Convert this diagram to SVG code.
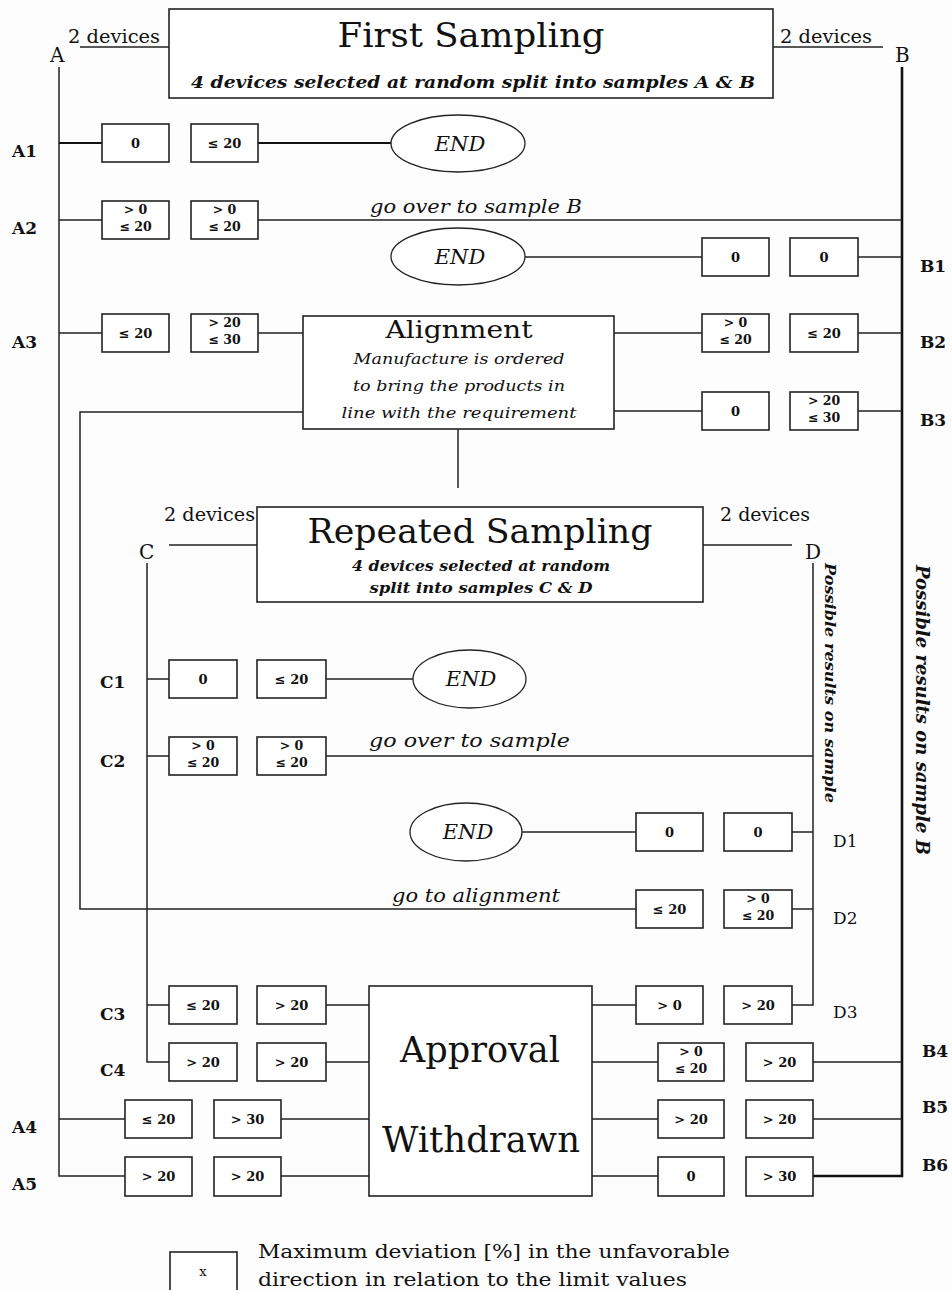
<svg xmlns="http://www.w3.org/2000/svg" width="952" height="1290" viewBox="0 0 952 1290">
<style>
.bx{fill:#fff;stroke:#222;stroke-width:1.6}
.ln{stroke:#222;stroke-width:1.5;fill:none}
.thk{stroke:#111;stroke-width:2.6;fill:none}
.ov{fill:#fff;stroke:#222;stroke-width:1.3}
text{font-family:"DejaVu Serif","Liberation Serif",serif;fill:#111}
.v{font-size:13px;font-weight:bold;text-anchor:middle}
.v2{font-size:12.5px;font-weight:bold;text-anchor:middle}
.lb{font-size:17px;font-weight:bold}
.lr{font-size:17px}
.dv{font-size:18px}
.it{font-style:italic}
.end{font-size:21px;font-style:italic;text-anchor:middle}
.go{font-size:19px;font-style:italic}
.mid{text-anchor:middle}
</style>
<rect width="952" height="1290" fill="#fdfdfd"/>

<g id="connectors">
  <path class="ln" d="M59 67 V1176 H125"/>
  <path class="thk" d="M902 67 V1176 H813"/>
  <path class="ln" d="M80 47 H169 M773 47 H883"/>
  <path class="thk" d="M59 143 H102 M258 143 H391" style="stroke-width:2"/>
  <path class="ln" d="M59 220 H102 M258 220 H902"/>
  <path class="ln" d="M525 257 H702 M858 257 H902"/>
  <path class="ln" d="M59 333 H102 M258 333 H303 M614 333 H702 M858 333 H902"/>
  <path class="ln" d="M614 411 H702 M858 411 H902"/>
  <path class="ln" d="M303 412 H80 V909 H636"/>
  <path class="ln" d="M458 429 V488"/>
  <path class="ln" d="M169 545 H257 M703 545 H792"/>
  <path class="ln" d="M147 563 V1062 H169"/>
  <path class="ln" d="M813 563 V1005 H792"/>
  <path class="ln" d="M147 679 H169 M326 679 H413"/>
  <path class="ln" d="M147 756 H169 M326 756 H813"/>
  <path class="ln" d="M522 832 H636 M792 832 H813"/>
  <path class="ln" d="M792 909 H813"/>
  <path class="ln" d="M147 1005 H169 M326 1005 H369 M592 1005 H636"/>
  <path class="ln" d="M326 1062 H369 M592 1062 H658 M813 1062 H902"/>
  <path class="ln" d="M59 1119 H125 M281 1119 H369 M592 1119 H658 M813 1119 H902"/>
  <path class="ln" d="M281 1176 H369 M592 1176 H658"/>
</g>

<g id="first-sampling">
  <rect class="bx" x="169" y="9" width="604" height="89"/>
  <text x="471" y="47" class="mid" font-size="33" textLength="267" lengthAdjust="spacingAndGlyphs">First Sampling</text>
  <text x="473" y="88" class="mid it" font-size="16" font-weight="bold" textLength="564" lengthAdjust="spacingAndGlyphs">4 devices selected at random split into samples A &amp; B</text>
  <text x="68" y="43" class="dv" textLength="92" lengthAdjust="spacingAndGlyphs">2 devices</text>
  <text x="780" y="43" class="dv" textLength="92" lengthAdjust="spacingAndGlyphs">2 devices</text>
  <text x="50" y="62" font-size="20">A</text>
  <text x="895" y="62" font-size="20">B</text>
</g>

<g id="A1">
  <text x="12" y="157" class="lb">A1</text>
  <rect class="bx" x="102" y="124" width="67" height="38"/><text x="135.5" y="148" class="v">0</text>
  <rect class="bx" x="191" y="124" width="67" height="38"/><text x="224.5" y="148" class="v">≤ 20</text>
</g>
<g id="end-A1">
  <ellipse class="ov" cx="458" cy="143.5" rx="67" ry="28.5"/>
  <text x="460" y="151" class="end">END</text>
</g>

<g id="A2">
  <text x="12" y="234" class="lb">A2</text>
  <rect class="bx" x="102" y="201" width="67" height="38"/><text x="135.5" y="214" class="v2">&gt; 0</text><text x="135.5" y="231" class="v2">≤ 20</text>
  <rect class="bx" x="191" y="201" width="67" height="38"/><text x="224.5" y="214" class="v2">&gt; 0</text><text x="224.5" y="231" class="v2">≤ 20</text>
  <text x="370" y="213" class="go" textLength="212" lengthAdjust="spacingAndGlyphs">go over to sample B</text>
</g>

<g id="end-B1">
  <ellipse class="ov" cx="458" cy="256.5" rx="67" ry="28.5"/>
  <text x="460" y="264" class="end">END</text>
</g>
<g id="B1">
  <rect class="bx" x="702" y="238" width="67" height="38"/><text x="735.5" y="262" class="v">0</text>
  <rect class="bx" x="790" y="238" width="68" height="38"/><text x="824" y="262" class="v">0</text>
  <text x="920" y="272" class="lb">B1</text>
</g>

<g id="A3">
  <text x="12" y="348" class="lb">A3</text>
  <rect class="bx" x="102" y="314" width="67" height="38"/><text x="135.5" y="338" class="v">≤ 20</text>
  <rect class="bx" x="191" y="314" width="67" height="38"/><text x="224.5" y="327" class="v2">&gt; 20</text><text x="224.5" y="344" class="v2">≤ 30</text>
</g>

<g id="alignment">
  <rect class="bx" x="303" y="316" width="311" height="113"/>
  <text x="459" y="338" class="mid" font-size="25" textLength="147" lengthAdjust="spacingAndGlyphs">Alignment</text>
  <text x="459" y="364" class="mid it" font-size="15" textLength="211" lengthAdjust="spacingAndGlyphs">Manufacture is ordered</text>
  <text x="459" y="391" class="mid it" font-size="15" textLength="212" lengthAdjust="spacingAndGlyphs">to bring the products in</text>
  <text x="459" y="418" class="mid it" font-size="15" textLength="235" lengthAdjust="spacingAndGlyphs">line with the requirement</text>
</g>

<g id="B2">
  <rect class="bx" x="702" y="314" width="67" height="38"/><text x="735.5" y="327" class="v2">&gt; 0</text><text x="735.5" y="344" class="v2">≤ 20</text>
  <rect class="bx" x="790" y="314" width="68" height="38"/><text x="824" y="338" class="v">≤ 20</text>
  <text x="920" y="348" class="lb">B2</text>
</g>
<g id="B3">
  <rect class="bx" x="702" y="392" width="67" height="38"/><text x="735.5" y="416" class="v">0</text>
  <rect class="bx" x="790" y="392" width="68" height="38"/><text x="824" y="405" class="v2">&gt; 20</text><text x="824" y="422" class="v2">≤ 30</text>
  <text x="920" y="426" class="lb">B3</text>
</g>

<g id="repeated-sampling">
  <rect class="bx" x="257" y="507" width="446" height="95"/>
  <text x="480" y="543" class="mid" font-size="33" textLength="345" lengthAdjust="spacingAndGlyphs">Repeated Sampling</text>
  <text x="481" y="571" class="mid it" font-size="15" font-weight="bold" textLength="258" lengthAdjust="spacingAndGlyphs">4 devices selected at random</text>
  <text x="481" y="593" class="mid it" font-size="15" font-weight="bold" textLength="223" lengthAdjust="spacingAndGlyphs">split into samples C &amp; D</text>
  <text x="164" y="521" class="dv" textLength="91" lengthAdjust="spacingAndGlyphs">2 devices</text>
  <text x="720" y="521" class="dv" textLength="90" lengthAdjust="spacingAndGlyphs">2 devices</text>
  <text x="139" y="559" font-size="20">C</text>
  <text x="805" y="559" font-size="20">D</text>
</g>

<g id="result-labels">
  <text transform="translate(916,565) rotate(90)" font-size="18" font-style="italic" font-weight="bold" textLength="290" lengthAdjust="spacingAndGlyphs">Possible results on sample B</text>
  <text transform="translate(825,563) rotate(90)" font-size="15" font-style="italic" font-weight="bold" textLength="240" lengthAdjust="spacingAndGlyphs">Possible results on sample</text>
</g>

<g id="C1">
  <text x="100" y="688" class="lb">C1</text>
  <rect class="bx" x="169" y="660" width="68" height="38"/><text x="203" y="684" class="v">0</text>
  <rect class="bx" x="257" y="660" width="69" height="38"/><text x="291.5" y="684" class="v">≤ 20</text>
</g>
<g id="end-C1">
  <ellipse class="ov" cx="469.5" cy="679" rx="56.5" ry="29"/>
  <text x="471" y="686" class="end">END</text>
</g>

<g id="C2">
  <text x="100" y="767" class="lb">C2</text>
  <rect class="bx" x="169" y="737" width="68" height="38"/><text x="203" y="750" class="v2">&gt; 0</text><text x="203" y="767" class="v2">≤ 20</text>
  <rect class="bx" x="257" y="737" width="69" height="38"/><text x="291.5" y="750" class="v2">&gt; 0</text><text x="291.5" y="767" class="v2">≤ 20</text>
  <text x="369" y="747" class="go" textLength="201" lengthAdjust="spacingAndGlyphs">go over  to  sample</text>
</g>

<g id="end-D1">
  <ellipse class="ov" cx="466" cy="832" rx="56" ry="29"/>
  <text x="468" y="839" class="end">END</text>
</g>
<g id="D1">
  <rect class="bx" x="636" y="813" width="67" height="38"/><text x="669.5" y="837" class="v">0</text>
  <rect class="bx" x="724" y="813" width="68" height="38"/><text x="758" y="837" class="v">0</text>
  <text x="833" y="847" class="lr">D1</text>
</g>

<g id="D2">
  <text x="392" y="902" class="go" textLength="168" lengthAdjust="spacingAndGlyphs">go to alignment</text>
  <rect class="bx" x="636" y="890" width="67" height="38"/><text x="669.5" y="914" class="v">≤ 20</text>
  <rect class="bx" x="724" y="890" width="68" height="38"/><text x="758" y="903" class="v2">&gt; 0</text><text x="758" y="920" class="v2">≤ 20</text>
  <text x="833" y="924" class="lr">D2</text>
</g>

<g id="C3">
  <text x="100" y="1020" class="lb">C3</text>
  <rect class="bx" x="169" y="986" width="68" height="38"/><text x="203" y="1010" class="v">≤ 20</text>
  <rect class="bx" x="257" y="986" width="69" height="38"/><text x="291.5" y="1010" class="v">&gt; 20</text>
</g>
<g id="D3">
  <rect class="bx" x="636" y="986" width="67" height="38"/><text x="669.5" y="1010" class="v">&gt; 0</text>
  <rect class="bx" x="724" y="986" width="68" height="38"/><text x="758" y="1010" class="v">&gt; 20</text>
  <text x="833" y="1018" class="lr">D3</text>
</g>

<g id="approval-withdrawn">
  <rect class="bx" x="369" y="986" width="223" height="210"/>
  <text x="480" y="1062" class="mid" font-size="35" textLength="160" lengthAdjust="spacingAndGlyphs">Approval</text>
  <text x="481" y="1152" class="mid" font-size="35" textLength="198" lengthAdjust="spacingAndGlyphs">Withdrawn</text>
</g>

<g id="C4">
  <text x="100" y="1076" class="lb">C4</text>
  <rect class="bx" x="169" y="1043" width="68" height="38"/><text x="203" y="1067" class="v">&gt; 20</text>
  <rect class="bx" x="257" y="1043" width="69" height="38"/><text x="291.5" y="1067" class="v">&gt; 20</text>
</g>
<g id="B4">
  <rect class="bx" x="658" y="1043" width="66" height="38"/><text x="691" y="1056" class="v2">&gt; 0</text><text x="691" y="1073" class="v2">≤ 20</text>
  <rect class="bx" x="746" y="1043" width="67" height="38"/><text x="779.5" y="1067" class="v">&gt; 20</text>
  <text x="922" y="1057" class="lb">B4</text>
</g>

<g id="A4">
  <text x="12" y="1133" class="lb">A4</text>
  <rect class="bx" x="125" y="1100" width="67" height="38"/><text x="158.5" y="1124" class="v">≤ 20</text>
  <rect class="bx" x="214" y="1100" width="67" height="38"/><text x="247.5" y="1124" class="v">&gt; 30</text>
</g>
<g id="B5">
  <rect class="bx" x="658" y="1100" width="66" height="38"/><text x="691" y="1124" class="v">&gt; 20</text>
  <rect class="bx" x="746" y="1100" width="67" height="38"/><text x="779.5" y="1124" class="v">&gt; 20</text>
  <text x="922" y="1113" class="lb">B5</text>
</g>

<g id="A5">
  <text x="12" y="1190" class="lb">A5</text>
  <rect class="bx" x="125" y="1157" width="67" height="39"/><text x="158.5" y="1181" class="v">&gt; 20</text>
  <rect class="bx" x="214" y="1157" width="67" height="39"/><text x="247.5" y="1181" class="v">&gt; 20</text>
</g>
<g id="B6">
  <rect class="bx" x="658" y="1157" width="66" height="39"/><text x="691" y="1181" class="v">0</text>
  <rect class="bx" x="746" y="1157" width="67" height="39"/><text x="779.5" y="1181" class="v">&gt; 30</text>
  <text x="922" y="1171" class="lb">B6</text>
</g>

<g id="legend">
  <rect class="bx" x="170" y="1252" width="67" height="48"/>
  <text x="203" y="1276" class="mid" font-size="13">x</text>
  <text x="258" y="1258" font-size="18" textLength="472" lengthAdjust="spacingAndGlyphs">Maximum deviation [%] in the unfavorable</text>
  <text x="258" y="1286" font-size="18" textLength="429" lengthAdjust="spacingAndGlyphs">direction in relation to the limit values</text>
</g>
</svg>
